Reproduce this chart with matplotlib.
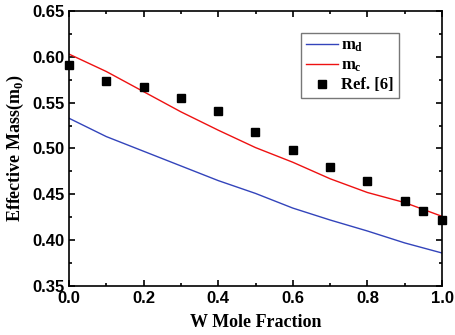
import matplotlib
matplotlib.use("Agg")
import matplotlib.pyplot as plt
from matplotlib.ticker import MultipleLocator

# W mole fraction
x_calc = [0.0, 0.1, 0.2, 0.3, 0.4, 0.5, 0.6, 0.7, 0.8, 0.9, 1.0]
m_d = [0.533, 0.513, 0.497, 0.481, 0.465, 0.451, 0.435, 0.422, 0.410, 0.397, 0.386]
m_c = [0.603, 0.584, 0.562, 0.540, 0.520, 0.501, 0.485, 0.467, 0.452, 0.441, 0.426]

x_ref = [0.0, 0.1, 0.2, 0.3, 0.4, 0.5, 0.6, 0.7, 0.8, 0.9, 0.95, 1.0]
m_ref = [0.591, 0.574, 0.567, 0.555, 0.541, 0.518, 0.498, 0.480, 0.464, 0.443, 0.432, 0.422]

serif = "Liberation Serif"
sans = "Liberation Sans"

plt.rcParams["mathtext.fontset"] = "custom"
plt.rcParams["mathtext.bf"] = "Liberation Serif:bold"
plt.rcParams["mathtext.rm"] = "Liberation Serif:bold"

fig = plt.figure(figsize=(4.56, 3.35), dpi=100)
ax = fig.add_axes([69 / 456, 1 - 286 / 335, 373 / 456, 275 / 335])

ax.plot(x_calc, m_d, color="#3344bb", lw=1.0, label=r"$\mathbf{m_d}$")
ax.plot(x_calc, m_c, color="#ee1111", lw=1.0, label=r"$\mathbf{m_c}$")
ax.plot(x_ref, m_ref, "s", color="black", ms=6, label="Ref. [6]", clip_on=False)

ax.set_xlim(0, 1.0)
ax.set_ylim(0.35, 0.65)
ax.xaxis.set_major_locator(MultipleLocator(0.2))
ax.xaxis.set_minor_locator(MultipleLocator(0.1))
ax.yaxis.set_major_locator(MultipleLocator(0.05))
ax.yaxis.set_minor_locator(MultipleLocator(0.025))
ax.tick_params(which="both", direction="in", top=True, right=True, width=1.2)
ax.tick_params(which="major", length=4)
ax.tick_params(which="minor", length=2.5)
for s in ax.spines.values():
    s.set_linewidth(1.2)

for lab in ax.get_xticklabels() + ax.get_yticklabels():
    lab.set_fontfamily(sans)
    lab.set_fontweight("bold")
    lab.set_fontsize(12)
ax.xaxis.set_major_formatter(plt.FormatStrFormatter("%.1f"))
ax.yaxis.set_major_formatter(plt.FormatStrFormatter("%.2f"))

ax.set_xlabel("W Mole Fraction", fontfamily=serif, fontweight="bold", fontsize=13, labelpad=6)
ax.set_ylabel(r"Effective Mass(m$_\mathbf{0}$)", fontfamily=serif, fontweight="bold", fontsize=13, labelpad=4)

leg = ax.legend(loc="upper right", bbox_to_anchor=(0.885, 0.92), borderaxespad=0, fancybox=False,
                edgecolor="#555555", prop={"family": serif, "weight": "bold", "size": 12},
                handlelength=1.9, borderpad=0.3, labelspacing=0.2, handletextpad=0.2)
leg.get_frame().set_linewidth(1.0)

fig.savefig("out.png", dpi=100)
